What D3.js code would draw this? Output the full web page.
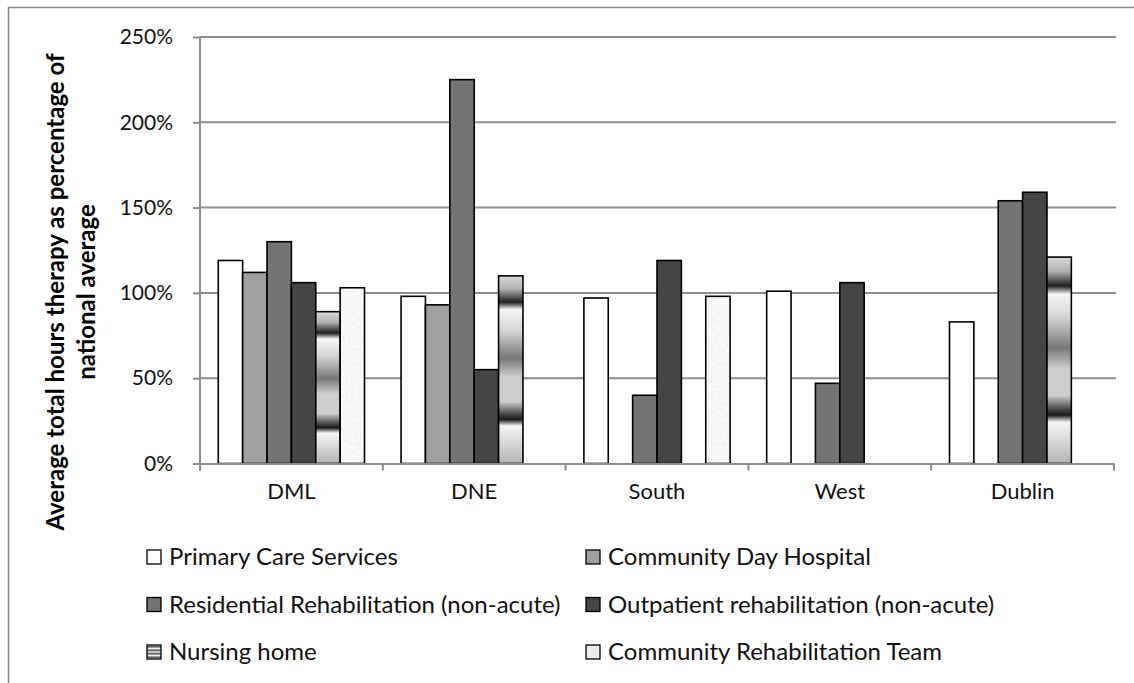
<!DOCTYPE html>
<html>
<head>
<meta charset="utf-8">
<script src="https://cdn.jsdelivr.net/npm/d3@7.9.0/dist/d3.min.js"></script>
<style>
  body { margin: 0; background: #fff; }
  svg { display: block; font-family: Lato, "Open Sans", sans-serif; }
</style>
</head>
<body>
<div id="chart"></div>
<script>
// values, as fractions of the national average
const regions = ['DML', 'DNE', 'South', 'West', 'Dublin'];
const services = [
  'Primary Care Services',
  'Community Day Hospital',
  'Residential Rehabilitation (non-acute)',
  'Outpatient rehabilitation (non-acute)',
  'Nursing home',
  'Community Rehabilitation Team'
];
const primaryCare       = [1.19, 0.98, 0.97, 1.01, 0.83];
const communityDay      = [1.12, 0.93, null, null, null];
const residentialRehab  = [1.30, 2.25, 0.40, 0.47, 1.54];
const outpatientRehab   = [1.06, 0.55, 1.19, 1.06, 1.59];
const nursingHome       = [0.89, 1.10, null, null, 1.21];
const communityTeam     = [1.03, null, 0.98, null, null];
const yTicks = [0, 0.5, 1, 1.5, 2, 2.5];

const seriesValues = [primaryCare, communityDay, residentialRehab, outpatientRehab, nursingHome, communityTeam];

const width = 1134;
const height = 683;
const plot = { left: 200, right: 1114, top: 37, bottom: 463.5 };

const svg = d3.select('#chart').append('svg')
  .attr('width', width)
  .attr('height', height);

const defs = svg.append('defs');

// nursing home: banded metallic gradient, stretched over each bar
const nh = defs.append('linearGradient')
  .attr('id', 'nursing')
  .attr('x1', 0).attr('y1', 0).attr('x2', 0).attr('y2', 1);
[
  [0, '#dadada'], [0.07, '#b0b0b0'], [0.14, '#1e1e1e'], [0.18, '#f6f6f6'],
  [0.29, '#d6d6d6'], [0.44, '#777'], [0.54, '#cecece'], [0.67, '#cecece'],
  [0.73, '#555'], [0.765, '#1a1a1a'], [0.8, '#f6f6f6'], [1, '#b4b4b4']
].forEach(([o, c]) => nh.append('stop').attr('offset', o).attr('stop-color', c));

// legend version, horizontal stripes
const nhLeg = defs.append('linearGradient')
  .attr('id', 'nursingLegend')
  .attr('x1', 0).attr('y1', 0).attr('x2', 0).attr('y2', 0.25)
  .attr('spreadMethod', 'repeat');
[[0, '#eee'], [0.5, '#555'], [1, '#eee']]
  .forEach(([o, c]) => nhLeg.append('stop').attr('offset', o).attr('stop-color', c));

// community rehab team: light speckled texture
const f = defs.append('filter').attr('id', 'speckle')
  .attr('x', 0).attr('y', 0).attr('width', 1).attr('height', 1);
f.append('feTurbulence')
  .attr('type', 'fractalNoise').attr('baseFrequency', 0.35)
  .attr('numOctaves', 2).attr('seed', 4);
f.append('feColorMatrix').attr('type', 'saturate').attr('values', 0);
const ct = f.append('feComponentTransfer');
['feFuncR', 'feFuncG', 'feFuncB'].forEach(fn =>
  ct.append(fn).attr('type', 'linear').attr('slope', 0.22).attr('intercept', 0.82));
ct.append('feFuncA').attr('type', 'linear').attr('slope', 0).attr('intercept', 1);

defs.append('pattern')
  .attr('id', 'speckled')
  .attr('patternUnits', 'userSpaceOnUse')
  .attr('width', width).attr('height', height)
  .append('rect')
  .attr('width', width).attr('height', height)
  .attr('filter', 'url(#speckle)');

const fills = ['#ffffff', '#a0a0a0', '#747474', '#454545', 'url(#nursing)', 'url(#speckled)'];
const legendFills = ['#ffffff', '#a0a0a0', '#747474', '#454545', 'url(#nursingLegend)', '#ececec'];

// outer chart border
svg.append('rect')
  .attr('x', 8.5).attr('y', 7.5)
  .attr('width', width + 20).attr('height', height + 20)
  .attr('fill', 'none')
  .attr('stroke', '#888')
  .attr('stroke-width', 1.5);

const x0 = d3.scaleBand()
  .domain(regions)
  .range([plot.left, plot.right]);

const x1 = d3.scaleBand()
  .domain(services)
  .range([0, x0.bandwidth()])
  .paddingOuter(0.75);

const y = d3.scaleLinear()
  .domain([0, 2.5])
  .range([plot.bottom, plot.top]);

// gridlines
svg.append('g')
  .selectAll('line')
  .data(yTicks.slice(1))
  .join('line')
  .attr('x1', plot.left).attr('x2', plot.right + 2)
  .attr('y1', d => y(d)).attr('y2', d => y(d))
  .attr('stroke', '#8c8c8c')
  .attr('stroke-width', 2);

// y axis
const yAxis = svg.append('g')
  .attr('transform', `translate(${plot.left},0)`)
  .call(d3.axisLeft(y).tickValues(yTicks).tickFormat(d3.format('.0%')).tickSize(7).tickPadding(20));
yAxis.select('.domain').attr('stroke', '#8c8c8c').attr('stroke-width', 2).attr('d', `M0,${plot.top}V${plot.bottom + 7}`);
yAxis.selectAll('.tick line').attr('stroke', '#8c8c8c').attr('stroke-width', 2);
yAxis.selectAll('.tick text').attr('font-size', 21).attr('fill', '#111').attr('font-family', 'Lato, sans-serif');

// bars
const groups = svg.append('g')
  .selectAll('g')
  .data(regions)
  .join('g')
  .attr('transform', d => `translate(${x0(d)},0)`);

groups.selectAll('rect')
  .data((r, i) => services
    .map((s, k) => ({ service: s, k, value: seriesValues[k][i] }))
    .filter(d => d.value != null))
  .join('rect')
  .attr('x', d => x1(d.service))
  .attr('width', x1.bandwidth())
  .attr('y', d => y(d.value))
  .attr('height', d => y(0) - y(d.value))
  .attr('fill', d => fills[d.k])
  .attr('stroke', '#000')
  .attr('stroke-width', 1.6);

// x axis: baseline, boundary ticks and labels
const xAxis = svg.append('g')
  .attr('transform', `translate(0,${plot.bottom})`)
  .call(d3.axisBottom(x0).tickSize(0).tickPadding(20));
xAxis.select('.domain').attr('stroke', '#8c8c8c').attr('stroke-width', 2);
xAxis.selectAll('.tick text').attr('font-size', 22).attr('fill', '#111').attr('font-family', 'Lato, sans-serif');
xAxis.append('g')
  .selectAll('line')
  .data(regions.map(r => x0(r)).concat([plot.right]))
  .join('line')
  .attr('x1', d => d).attr('x2', d => d)
  .attr('y1', 0).attr('y2', 7)
  .attr('stroke', '#8c8c8c')
  .attr('stroke-width', 2);

// y title, two lines, rotated
const title = svg.append('text')
  .attr('transform', 'translate(64,292) rotate(-90)')
  .attr('text-anchor', 'middle')
  .attr('font-weight', 'bold')
  .attr('font-size', 24)
  .attr('fill', '#000');
title.append('tspan').attr('x', 0).attr('dy', 0).text('Average total hours therapy as percentage of');
title.append('tspan').attr('x', 0).attr('dy', 31).text('national average');

// legend
const legendCols = [147, 586];
const legendRows = [557, 604.5, 652];
const legend = svg.append('g')
  .selectAll('g')
  .data(services)
  .join('g')
  .attr('transform', (d, i) => `translate(${legendCols[i % 2]},${legendRows[Math.floor(i / 2)]})`);

legend.append('rect')
  .attr('x', 0).attr('y', -7)
  .attr('width', 14).attr('height', 14)
  .attr('fill', (d, i) => legendFills[i])
  .attr('stroke', '#000')
  .attr('stroke-width', 1.3);

legend.append('text')
  .attr('x', 22)
  .attr('dy', '0.35em')
  .attr('font-size', 24)
  .attr('fill', '#111')
  .text(d => d);
</script>
</body>
</html>
